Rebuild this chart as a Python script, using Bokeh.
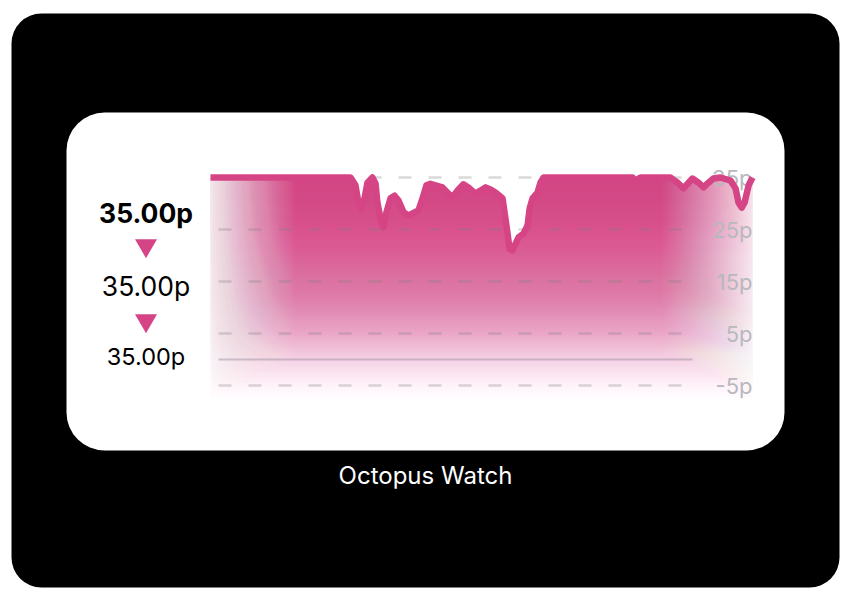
import numpy as np
from bokeh.plotting import figure
from bokeh.models import Range1d
from bokeh.core.properties import value
from bokeh.embed import file_html
from bokeh.resources import INLINE

# ---------------- data ----------------
hours = [0.00, 6.20, 6.42, 6.55, 6.69, 6.82, 6.95, 7.17, 7.31, 7.39, 7.57, 7.66,
         7.79, 7.97, 8.15, 8.32, 8.55, 8.77, 9.21, 9.39, 9.56, 9.74, 10.27, 10.49,
         10.72, 10.94, 11.20, 11.42, 11.73, 11.96, 12.18, 12.40, 12.62, 12.93,
         13.02, 13.15, 13.24, 13.37, 13.51, 13.64, 13.86, 14.04, 14.13, 14.26,
         14.48, 14.61, 14.75, 18.69, 18.82, 19.04, 20.37, 20.68, 20.94, 21.17,
         21.34, 21.61, 21.83, 22.05, 22.27, 22.58, 23.03, 23.25, 23.38, 23.52,
         23.65, 23.83, 24.00]
prices = [35.0, 35.0, 33.5, 30.2, 29.0, 31.0, 34.0, 35.0, 33.8, 30.2, 26.2, 25.4,
          28.3, 31.0, 31.5, 30.6, 28.3, 27.7, 28.7, 31.0, 33.5, 33.8, 33.1, 32.1,
          31.2, 32.5, 33.7, 33.1, 31.9, 32.5, 33.1, 32.7, 32.1, 31.0,
          28.3, 24.4, 21.3, 21.0, 22.3, 23.5, 24.2, 25.8, 29.0, 31.0,
          32.1, 34.0, 35.0, 35.0, 34.4, 35.0, 35.0, 34.0, 32.9, 34.0,
          34.8, 34.0, 33.1, 34.0, 34.8, 35.0, 34.4, 32.9, 30.2, 29.2,
          30.2, 33.5, 35.0]
tick_values = [35, 25, 15, 5, -5]
tick_labels = ["35p", "25p", "15p", "5p", "-5p"]
summary_labels = ["35.00p", "35.00p", "35.00p"]
title_text = "Octopus Watch"

PINK = "#D54585"
FONT = value("Inter")

# ---------------- canvas ----------------
W, H = 842, 592
p = figure(width=W, height=H, output_backend="svg", toolbar_location=None,
           x_range=Range1d(0, W), y_range=Range1d(H, 0),
           x_axis_location=None, y_axis_location=None, min_border=0)
p.grid.visible = False
p.outline_line_color = None
p.background_fill_color = "white"
p.border_fill_color = "white"

# chart scale anchors (canvas pixels)
X0, X1 = 210, 752          # first / last sample
Y_TOP, Y_BOT = 177, 385    # 35p / -5p
sx = (X1 - X0) / (hours[-1] - hours[0])
sy = (Y_BOT - Y_TOP) / (tick_values[0] - tick_values[-1])
h_start = hours[0] - X0 / sx
h_end = hours[-1] + (W - X1) / sx
p_top = tick_values[0] + Y_TOP / sy
p_bot = tick_values[-1] - (H - Y_BOT) / sy
p.extra_x_ranges = {"h": Range1d(h_start, h_end)}
p.extra_y_ranges = {"p": Range1d(p_bot, p_top)}

def hx(px):
    return h_start + px / sx

# backgrounds
p.quad(left=11, right=839, top=13, bottom=587, fill_color="black",
       line_color=None, border_radius=30)
p.quad(left=66, right=784, top=112, bottom=450, fill_color="white",
       line_color=None, border_radius=38)

# ---------------- gradient fill ----------------
pr = np.array(prices)
levels = np.arange(-8, 35, 0.5)
a_pts = [-8, -5, 0, 5, 13, 21, 35]
a_val = [0.0, 0.07, 0.22, 0.43, 0.66, 0.79, 0.97]
T = 1 - np.interp(levels + 0.25, a_pts, a_val)
prevT = 1.0
for lo, t in zip(levels, T):
    a = 1 - t / prevT
    prevT = t
    p.varea(x=hours, y1=[float(lo)] * len(hours), y2=np.maximum(pr, lo).tolist(),
            fill_color=PINK, fill_alpha=float(a),
            x_range_name="h", y_range_name="p")

# horizontal fades (stacked white overlays)
def fade(edges, frac, from_left=True):
    n = len(frac)
    for j in range(n):
        if from_left:
            nxt = frac[j + 1] if j + 1 < n else 1.0
            b = 1 - frac[j] / nxt
            l, r = hx(edges[0] - 6), hx(edges[j + 1])
        else:
            prv = frac[j - 1] if j - 1 >= 0 else 1.0
            b = 1 - frac[j] / prv
            l, r = hx(edges[j]), hx(edges[-1] + 6)
        p.quad(left=l, right=r, top=36.5, bottom=-10,
               fill_color="white", fill_alpha=float(b), line_color=None,
               x_range_name="h", y_range_name="p")

le = np.arange(204, 300, 2)
lm = (le[:-1] + le[1:]) / 2
lf = np.clip((lm - 205) / 90, 0.01, 1)
fade(le.tolist(), lf.tolist(), True)

re_ = np.arange(656, 768, 2)
rm = (re_[:-1] + re_[1:]) / 2
rf = np.clip((765 - rm) / 105, 0.01, 1)
fade(re_.tolist(), rf.tolist(), False)

# ---------------- grid ----------------
g0, g1 = hx(218), hx(692)
p.segment(x0=[g0] * len(tick_values), x1=[g1] * len(tick_values),
          y0=tick_values, y1=tick_values, line_color="#808080", line_alpha=0.3,
          line_width=2.5, line_dash="13 17", x_range_name="h", y_range_name="p")
p.segment(x0=[g0], x1=[g1], y0=[0], y1=[0], line_color="#8c8090",
          line_alpha=0.4, line_width=2, x_range_name="h", y_range_name="p")

p.text(x=[hours[-1]] * len(tick_values), y=tick_values, text=tick_labels,
       text_font=FONT, text_font_size="22px", text_color="#b8b8bd",
       text_align="right", text_baseline="middle",
       x_range_name="h", y_range_name="p")

# ---------------- price line ----------------
p.line(hours, prices, line_color=PINK, line_width=6.5, line_join="round",
       x_range_name="h", y_range_name="p")

# ---------------- left summary ----------------
p.text(x=[145.5], y=[212], text=[summary_labels[0]], text_font=FONT,
       text_font_size="26.5px", text_font_style="bold", text_color="black",
       text_align="center", text_baseline="alphabetic")
p.text(x=[145.5], y=[285], text=[summary_labels[1]], text_font=FONT,
       text_font_size="26.5px", text_color="black",
       text_align="center", text_baseline="alphabetic")
p.text(x=[145.5], y=[356], text=[summary_labels[2]], text_font=FONT,
       text_font_size="23.5px", text_color="black",
       text_align="center", text_baseline="alphabetic")
p.scatter(x=[145.5, 145.5], y=[245, 320], marker="inverted_triangle",
          size=22, fill_color=PINK, line_color=None)

# title
p.text(x=[425], y=[475], text=[title_text], text_font=FONT,
       text_font_size="24px", text_color="white",
       text_align="center", text_baseline="alphabetic")

open("out.html", "w").write(file_html(p, INLINE))
